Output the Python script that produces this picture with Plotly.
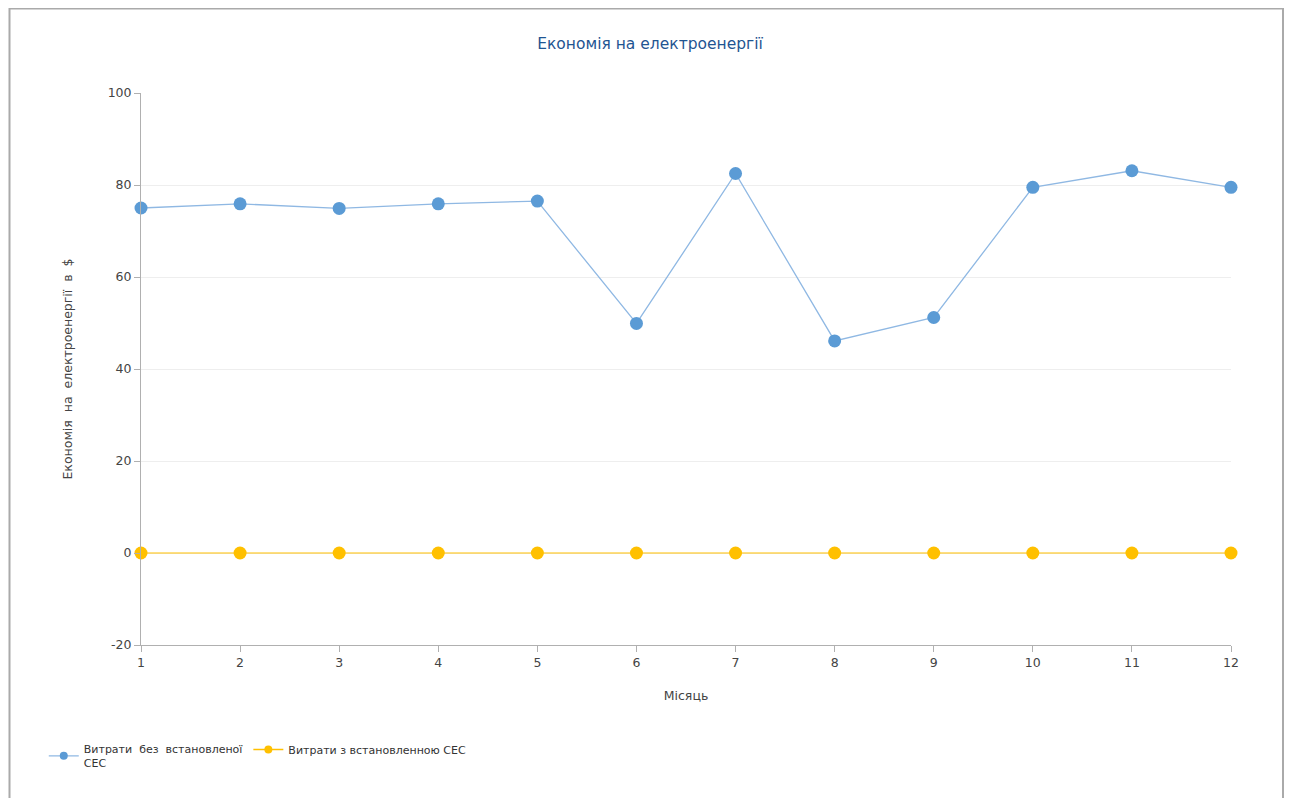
import plotly.graph_objects as go

months = [1, 2, 3, 4, 5, 6, 7, 8, 9, 10, 11, 12]
without_ses = [75.0, 75.9, 74.9, 75.9, 76.5, 49.9, 82.5, 46.1, 51.2, 79.5, 83.1, 79.5]
with_ses = [0] * 12
series_names = ["Витрати  без  встановленої<br>СЕС", "Витрати з встановленною СЕС"]
y_ticks = [-20, 0, 20, 40, 60, 80, 100]
y_tick_text = ["-20", "0", "20", "40", "60", "80", "100"]

FONT = "DejaVu Sans"
BLUE_LINE, BLUE = "#8fb8e3", "#5b9bd5"
YELLOW = "#ffc000"

fig = go.Figure()
fig.add_trace(go.Scatter(
    x=months, y=without_ses, name=series_names[0], mode="lines+markers",
    line=dict(color=BLUE_LINE, width=1.3), cliponaxis=False,
    marker=dict(color=BLUE, size=13, line=dict(width=0)), showlegend=False,
))
fig.add_trace(go.Scatter(
    x=months, y=with_ses, name=series_names[1], mode="lines+markers",
    line=dict(color=YELLOW, width=1.1), cliponaxis=False,
    marker=dict(color=YELLOW, size=13, line=dict(width=0)), showlegend=False,
))
# legend entries with small symbols
fig.add_trace(go.Scatter(
    x=[None], y=[None], name=series_names[0], mode="lines+markers",
    line=dict(color=BLUE_LINE, width=1.3), marker=dict(color=BLUE, size=8),
))
fig.add_trace(go.Scatter(
    x=[None], y=[None], name=series_names[1], mode="lines+markers",
    line=dict(color=YELLOW, width=1.3), marker=dict(color=YELLOW, size=8),
))

fig.update_layout(
    width=1284, height=790,
    margin=dict(l=133, r=61, t=85, b=153),
    paper_bgcolor="white", plot_bgcolor="white",
    font=dict(family=FONT, size=12, color="#444444"),
    title=dict(text="Економія на електроенергії", x=0.5, xref="container", xanchor="center",
               y=1 - 36 / 790, yref="container", yanchor="middle",
               font=dict(family=FONT, size=15.5, color="#1f5592")),
    showlegend=True,
    legend=dict(orientation="h", x=-0.0892, xanchor="left", y=-0.163, yanchor="top",
                font=dict(family=FONT, size=11, color="#333333"),
                tracegroupgap=0),
    hovermode=False,
)
fig.update_xaxes(
    range=[1, 12], tickmode="array", tickvals=months, ticktext=[str(m) for m in months],
    showgrid=False, showline=True, linecolor="#b0b0b0", linewidth=1,
    ticks="outside", ticklen=6, tickcolor="#b0b0b0", zeroline=False,
    title=dict(text="Місяць", standoff=22, font=dict(size=12.5, color="#444444")),
    tickfont=dict(size=12.5, color="#444444"),
)
fig.update_yaxes(
    range=[-20, 100], tickmode="array", tickvals=y_ticks, ticktext=y_tick_text,
    showgrid=True, gridcolor="#eeeeee", gridwidth=1,
    showline=True, linecolor="#b0b0b0", linewidth=1,
    ticks="outside", ticklen=6, tickcolor="#b0b0b0", zeroline=False,
    title=dict(text="Економія  на  електроенергії  в  $", standoff=32, font=dict(size=12.5, color="#444444")),
    tickfont=dict(size=12.5, color="#444444"),
)

fig.add_shape(type="rect", xref="paper", yref="paper",
              x0=(9.5 - 141) / 1090, x1=(1283 - 141) / 1090,
              y0=(645 - 805) / 552, y1=(645 - 8.5) / 552,
              line=dict(color="#aaaaaa", width=2), fillcolor="rgba(0,0,0,0)", layer="below")

fig.write_html("out.html")
